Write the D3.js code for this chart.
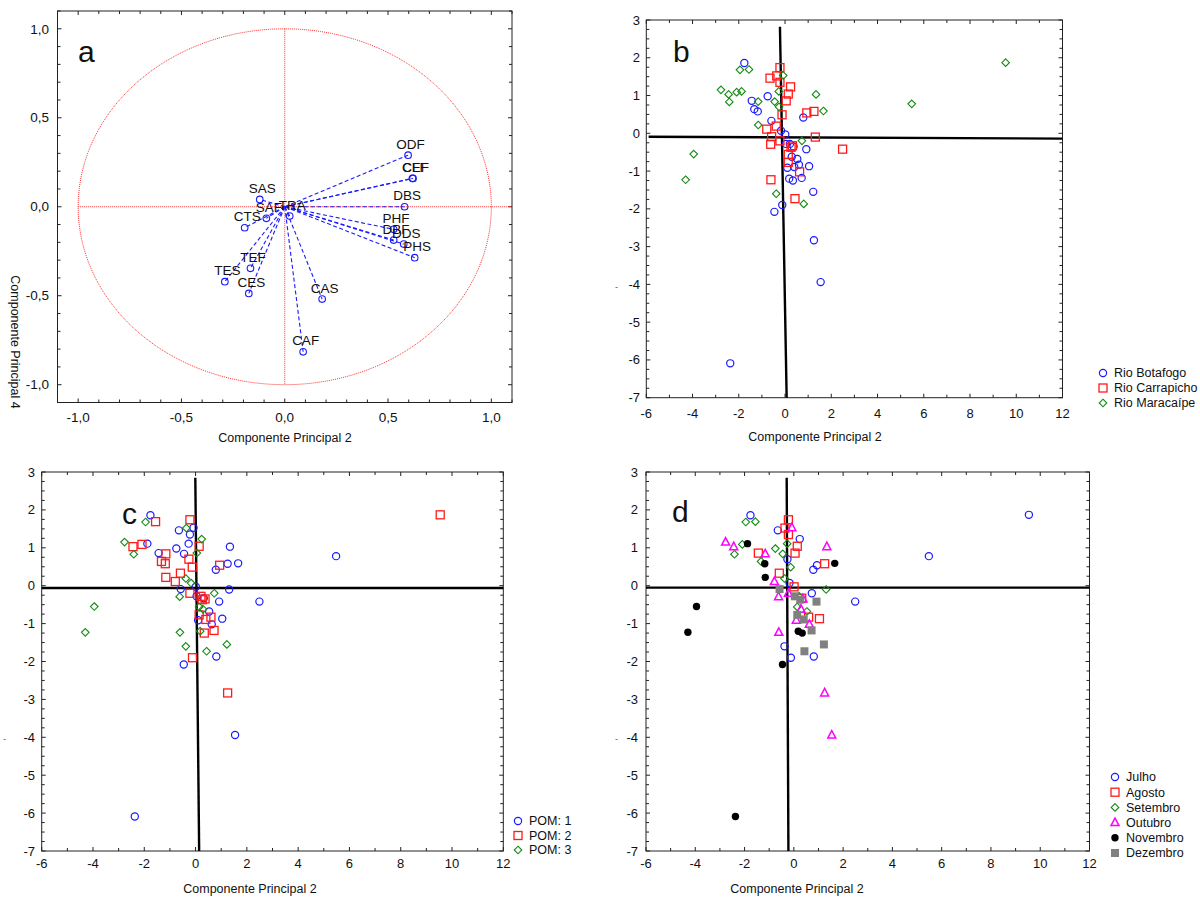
<!DOCTYPE html>
<html><head><meta charset="utf-8">
<script src="https://cdn.jsdelivr.net/npm/d3@7"></script>
<style>body{margin:0;background:#fff}svg{display:block}text{font-family:"Liberation Sans",Arial,sans-serif}</style>
</head><body>
<svg id="c" width="1200" height="899"></svg>
<script>
// ---------- DATA ----------
// Panel a: loadings (Componente Principal 2 vs 4)
const loadVars = ["ODF","CLF","CEF","DBS","PHF","DBF","DDS","PHS","SAS","SAF","CTS","TEF","TES","CES","CAS","CAF","TRA"];
const loadX    = [0.597,0.618,0.621,0.580,0.527,0.527,0.576,0.629,-0.121,-0.089,-0.194,-0.166,-0.290,-0.174,0.181,0.089,0.024];
const loadY    = [0.290,0.160,0.159,0.000,-0.127,-0.187,-0.210,-0.286,0.041,-0.065,-0.118,-0.346,-0.421,-0.487,-0.519,-0.815,-0.052];
const loadTicks = [-1,-0.5,0,0.5,1];

// Panels b, c, d: scores
const rivers = ["Rio Botafogo","Rio Carrapicho","Rio Maracaípe"];
const poms   = ["POM: 1","POM: 2","POM: 3"];
const months = ["Julho","Agosto","Setembro","Outubro","Novembro","Dezembro"];
const scoreX = [
 -1.76,-0.75,-1.44,-1.33,-1.18,-0.59,0.79,-0.175,0.01,0.04,0.21,0.37,0.92,0.29,0.53,0.60,0.10,0.40,1.04,0.18,0.34,0.72,1.22,-0.12,-0.46,1.25,1.54,-2.37,
 -0.22,-0.36,-0.65,-0.22,0.24,0.14,0.05,-0.13,0.94,1.25,-0.38,-0.79,-0.58,-0.22,-0.62,1.31,2.49,0.26,0.32,0.14,0.14,0.63,-0.61,0.43,
 -1.95,-1.56,-0.08,-2.77,-2.44,-2.09,-1.88,-2.41,-1.16,-0.27,-0.45,-0.26,1.34,1.66,-1.16,0.73,-0.38,0.81,-3.95,-4.30,9.54,5.48];
const scoreY = [
 1.86,0.98,0.86,0.64,0.58,0.33,0.42,0.07,-0.03,-0.28,-0.28,-0.35,-0.42,-0.62,-0.68,-0.83,-0.91,-0.89,-0.87,-1.20,-1.25,-1.18,-1.55,-1.90,-2.08,-2.83,-3.94,-6.09,
 1.74,1.52,1.46,1.35,1.23,1.04,0.86,0.49,0.54,0.58,0.19,0.11,-0.09,-0.20,-0.29,-0.10,-0.42,-0.37,-0.33,-0.56,-0.77,-1.02,-1.23,-1.73,
 1.68,1.69,1.53,1.15,1.03,1.09,1.11,0.83,0.84,1.11,0.84,0.70,1.03,0.59,0.22,-0.20,-1.60,-1.87,-0.55,-1.23,1.87,0.78];
const riverIdx = [
 0,0,0,0,0,0,0,0,0,0,0,0,0,0,0,0,0,0,0,0,0,0,0,0,0,0,0,0,
 1,1,1,1,1,1,1,1,1,1,1,1,1,1,1,1,1,1,1,1,1,1,1,1,
 2,2,2,2,2,2,2,2,2,2,2,2,2,2,2,2,2,2,2,2,2,2];
const pomIdx = [
 0,0,0,1,1,1,0,2,0,0,1,1,0,2,0,1,0,1,0,2,1,1,2,1,0,1,0,0,
 1,2,0,0,2,1,2,1,1,0,2,1,0,1,2,0,0,1,0,2,1,0,2,2,
 2,1,0,2,1,1,0,2,1,0,0,1,0,0,1,2,2,0,2,2,1,0];
const monthIdx = [
 0,2,1,2,4,1,0,0,1,5,2,3,5,3,2,1,3,5,1,4,4,5,5,0,4,3,3,4,
 1,1,0,1,0,1,1,2,0,1,2,3,5,3,3,2,0,5,1,2,5,3,3,5,
 2,2,3,3,3,2,4,2,3,2,2,0,3,4,4,0,0,0,4,4,0,0];
const scoreXTicks = [-6,-4,-2,0,2,4,6,8,10,12];
const scoreYTicks = [3,2,1,0,-1,-2,-3,-4,-5,-6,-7];

// ---------- LAYOUT ----------
const svg = d3.select("#c");
const FONT = '"Liberation Sans",Arial,sans-serif';
const comma = v => d3.format(".1f")(v).replace(".", ",").replace("−","-");

function frameAxes(g, x, y, xMinor, yMinor, xMajor, yMajor, fmt, tickFs, ylabRight, xlabBase){
  const [xa,xb] = x.range(), [ya,yb] = y.range();
  const L = Math.min(xa,xb), R = Math.max(xa,xb), T = Math.min(ya,yb), B = Math.max(ya,yb);
  g.append("rect").attr("x",L).attr("y",T).attr("width",R-L).attr("height",B-T)
    .attr("fill","none").attr("stroke","#222").attr("stroke-width",1);
  xMinor.forEach(v=>{
    const px = x(v), len = xMajor.some(m=>Math.abs(m-v)<1e-9)?4:3;
    g.append("line").attr("x1",px).attr("x2",px).attr("y1",B).attr("y2",B-len).attr("stroke","#222");
    g.append("line").attr("x1",px).attr("x2",px).attr("y1",T).attr("y2",T+len).attr("stroke","#222");
  });
  yMinor.forEach(v=>{
    const py = y(v), len = yMajor.some(m=>Math.abs(m-v)<1e-9)?4:3;
    g.append("line").attr("y1",py).attr("y2",py).attr("x1",L).attr("x2",L+len).attr("stroke","#222");
    g.append("line").attr("y1",py).attr("y2",py).attr("x1",R).attr("x2",R-len).attr("stroke","#222");
  });
  xMajor.forEach(v=>{
    g.append("text").attr("x",x(v)).attr("y",xlabBase).attr("text-anchor","middle")
      .attr("font-size",tickFs).attr("fill","#111").text(fmt(v));
  });
  yMajor.forEach(v=>{
    g.append("text").attr("x",ylabRight).attr("y",y(v)).attr("dy","0.35em").attr("text-anchor","end")
      .attr("font-size",tickFs).attr("fill","#111").text(fmt(v));
  });
}

// ---------- PANEL A ----------
(function(){
  const g = svg.append("g");
  const x = d3.scaleLinear().domain([-1.1,1.1]).range([57.5,512]);
  const y = d3.scaleLinear().domain([-1.1,1.1]).range([402.5,11]);
  const minor = d3.range(-11,12).map(i=>i/10);
  frameAxes(g,x,y,minor,minor,loadTicks,loadTicks,comma,13.5,49,422);
  // unit circle (ellipse on screen)
  const circ = d3.range(0,361,2).map(a=>[Math.cos(a*Math.PI/180),Math.sin(a*Math.PI/180)]);
  g.append("path").attr("d",d3.line().x(d=>x(d[0])).y(d=>y(d[1]))(circ))
    .attr("fill","none").attr("stroke","#ff3030").attr("stroke-width",1).attr("stroke-dasharray","1,1");
  g.append("line").attr("x1",x(-1)).attr("x2",x(1.1)).attr("y1",y(0)).attr("y2",y(0))
    .attr("stroke","#ff3030").attr("stroke-dasharray","1,1");
  g.append("line").attr("x1",x(0)).attr("x2",x(0)).attr("y1",y(1)).attr("y2",y(-1))
    .attr("stroke","#ff3030").attr("stroke-dasharray","1,1");
  loadVars.forEach((name,i)=>{
    g.append("line").attr("x1",x(0)).attr("y1",y(0)).attr("x2",x(loadX[i])).attr("y2",y(loadY[i]))
      .attr("stroke","#1a1aff").attr("stroke-width",1.1).attr("stroke-dasharray","4,2.5");
  });
  loadVars.forEach((name,i)=>{
    g.append("circle").attr("cx",x(loadX[i])).attr("cy",y(loadY[i])).attr("r",3.3)
      .attr("fill","none").attr("stroke","#1a1aff").attr("stroke-width",1.1);
    g.append("text").attr("x",x(loadX[i])+2.5).attr("y",y(loadY[i])-6.5).attr("text-anchor","middle")
      .attr("font-size",13.5).attr("fill","#111").text(name);
  });
  g.append("text").attr("x",78).attr("y",62).attr("font-size",30).attr("fill","#111").text("a");
  g.append("text").attr("x",285).attr("y",442).attr("text-anchor","middle").attr("font-size",12.5).attr("fill","#111").text("Componente Principal 2");
  g.append("text").attr("transform","translate(11,342) rotate(90)").attr("text-anchor","middle")
    .attr("font-size",12.5).attr("fill","#111").text("Componente Principal 4");
})();

// ---------- SCORE PANELS ----------
const sym = {
  circle:(g,cx,cy,col)=>g.append("circle").attr("cx",cx).attr("cy",cy).attr("r",3.6).attr("fill","none").attr("stroke",col).attr("stroke-width",1.2),
  square:(g,cx,cy,col)=>g.append("rect").attr("x",cx-4).attr("y",cy-4).attr("width",8).attr("height",8).attr("fill","none").attr("stroke",col).attr("stroke-width",1.3),
  diamond:(g,cx,cy,col)=>g.append("path").attr("d",`M${cx},${cy-3.8}L${cx+3.8},${cy}L${cx},${cy+3.8}L${cx-3.8},${cy}Z`).attr("fill","none").attr("stroke",col).attr("stroke-width",1.1),
  triangle:(g,cx,cy,col)=>g.append("path").attr("d",`M${cx},${cy-4.5}L${cx+4},${cy+3}L${cx-4},${cy+3}Z`).attr("fill","none").attr("stroke",col).attr("stroke-width",1.5),
  dot:(g,cx,cy,col)=>g.append("circle").attr("cx",cx).attr("cy",cy).attr("r",3.7).attr("fill",col).attr("stroke","none"),
  fsquare:(g,cx,cy,col)=>g.append("rect").attr("x",cx-4).attr("y",cy-4).attr("width",8).attr("height",8).attr("fill",col).attr("stroke","none")
};

function scorePanel(opt){
  const g = svg.append("g");
  const x = d3.scaleLinear().domain([-6,12]).range(opt.xr);
  const y = d3.scaleLinear().domain([-7,3]).range(opt.yr);
  frameAxes(g,x,y,d3.range(-6,13),d3.range(-28,13).map(i=>i/4),scoreXTicks,scoreYTicks,d=>String(d),13,opt.ylabRight,opt.xlabBase);
  // reference cross
  g.append("line").attr("x1",x(opt.v[0])).attr("y1",y(opt.v[1])).attr("x2",x(opt.v[2])).attr("y2",y(opt.v[3]))
    .attr("stroke","#000").attr("stroke-width",2.4);
  g.append("line").attr("x1",x(opt.h[0])).attr("y1",y(opt.h[1])).attr("x2",x(opt.h[2])).attr("y2",y(opt.h[3]))
    .attr("stroke","#000").attr("stroke-width",2.4);
  // points, drawn group by group
  opt.groups.forEach((name,k)=>{
    scoreX.forEach((vx,i)=>{
      if(opt.idx[i]!==k) return;
      sym[opt.shapes[k]](g,x(vx),y(scoreY[i]),opt.colors[k]);
    });
  });
  // legend
  opt.groups.forEach((name,k)=>{
    const ly = opt.leg[1]+k*opt.leg[2];
    sym[opt.shapes[k]](g,opt.leg[0],ly,opt.colors[k]);
    g.append("text").attr("x",opt.leg[0]+11).attr("y",ly).attr("dy","0.35em").attr("font-size",12.5).attr("fill","#111").text(name);
  });
  g.append("text").attr("x",opt.letter[0]).attr("y",opt.letter[1]).attr("font-size",30).attr("fill","#111").text(opt.label);
  g.append("text").attr("x",opt.title[0]).attr("y",opt.title[1]).attr("text-anchor","middle").attr("font-size",12.5).attr("fill","#111").text("Componente Principal 2");
  g.append("text").attr("x",opt.dash[0]).attr("y",opt.dash[1]).attr("font-size",9).attr("fill","#555").text("-");
}

scorePanel({label:"b", xr:[646.3,1062.5], yr:[397.7,20], ylabRight:640, xlabBase:418,
  v:[-0.22,2.82,0.07,-7], h:[-5.9,-0.09,12,-0.14],
  groups:rivers, idx:riverIdx, shapes:["circle","square","diamond"], colors:["#1a1aff","#ff1a1a","#138a13"],
  leg:[1103,373,15], letter:[673,62], title:[815,441], dash:[615,290]});

scorePanel({label:"c", xr:[41.7,503.3], yr:[851,472], ylabRight:35, xlabBase:868,
  v:[-0.01,2.85,0.14,-7], h:[-6,-0.06,12,-0.06],
  groups:poms, idx:pomIdx, shapes:["circle","square","diamond"], colors:["#1a1aff","#ff1a1a","#138a13"],
  leg:[518,821,14.5], letter:[122,524], title:[250,893], dash:[3,742]});

scorePanel({label:"d", xr:[646,1089.5], yr:[851,472], ylabRight:638, xlabBase:868,
  v:[-0.29,2.85,-0.22,-7], h:[-6,-0.05,12,-0.05],
  groups:months, idx:monthIdx, shapes:["circle","square","diamond","triangle","dot","fsquare"],
  colors:["#1a1aff","#ff1a1a","#138a13","#ff00ff","#000000","#808080"],
  leg:[1115,777,15.2], letter:[672,522], title:[797,893], dash:[615,742]});
</script>
</body></html>
